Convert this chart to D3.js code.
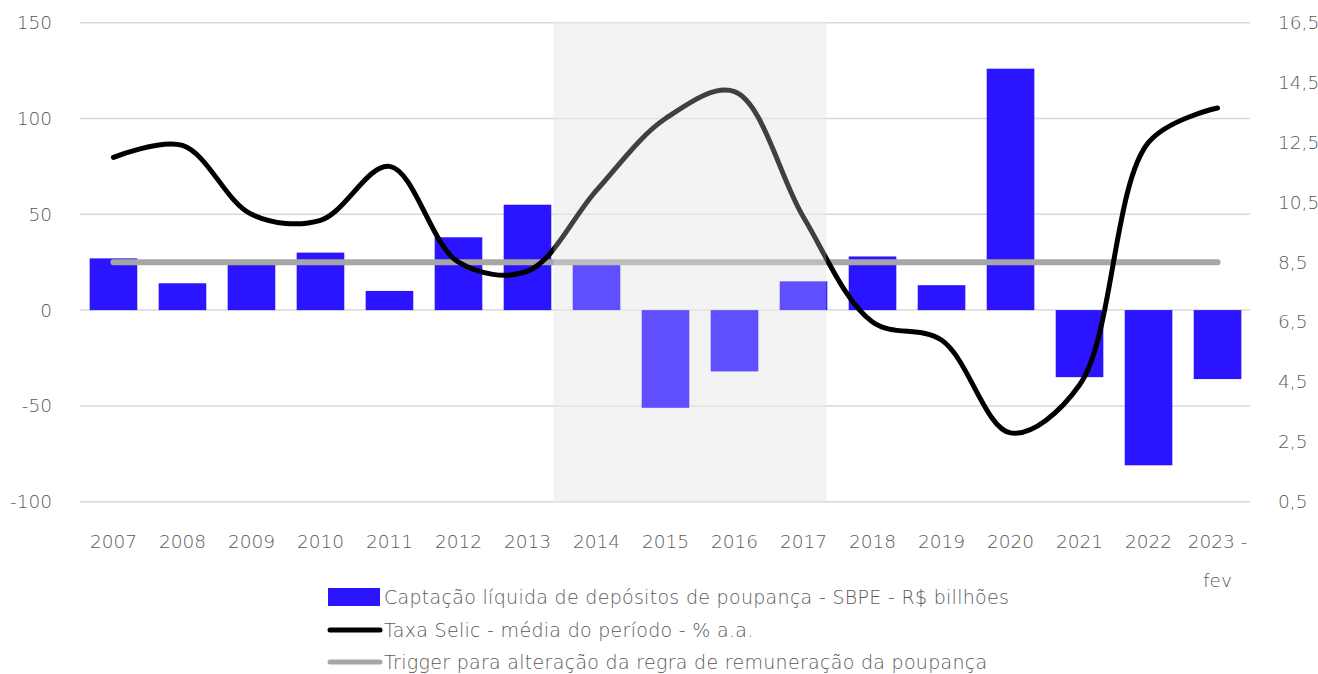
<!DOCTYPE html>
<html>
<head>
<meta charset="utf-8">
<script src="https://cdn.jsdelivr.net/npm/d3@7"></script>
<style>
    body { margin: 0; background: #fff; }
    svg text { font-family: 'DejaVu Sans', sans-serif; font-weight: 200; fill: #595959; }
</style>
</head>
<body>
<main></main>
<script>
const years = ['2007', '2008', '2009', '2010', '2011', '2012', '2013', '2014', '2015', '2016', '2017', '2018', '2019', '2020', '2021', '2022', '2023 - fev'];
const captacao = [27, 14, 25, 30, 10, 38, 55, 24, -51, -32, 15, 28, 13, 126, -35, -81, -36];
const selic = [12.0, 12.4, 10.1, 9.9, 11.7, 8.5, 8.2, 10.9, 13.3, 14.2, 10.0, 6.5, 5.9, 2.8, 4.4, 12.5, 13.65];
const trigger = 8.5;
const leftTicks = [-100, -50, 0, 50, 100, 150];
const rightTicks = [0.5, 2.5, 4.5, 6.5, 8.5, 10.5, 12.5, 14.5, 16.5];
const shadedYears = ['2014', '2017'];
const legendLabels = [
    'Captação líquida de depósitos de poupança - SBPE - R$ billhões',
    'Taxa Selic - média do período - % a.a.',
    'Trigger para alteração da regra de remuneração da poupança'
];

const w = 1318;
const h = 674;
const pLeft = 80, pRight = 1251, pTop = 22.7, pBottom = 501.7;
const blue = '#2b14ff';
const fs = '18.5px';

const svg = d3.select('main').append('svg').attr('width', w).attr('height', h);

const xScale = d3.scaleBand().domain(years).range([pLeft, pRight])
    .paddingInner(0.31).paddingOuter(0.14);
const cx = d => xScale(d) + xScale.bandwidth() / 2;
const yLeft = d3.scaleLinear().domain([-100, 150]).range([pBottom, pTop]);
const yRight = d3.scaleLinear().domain([0.5, 16.5]).range([pBottom, pTop]);

// shaded period
const shadeX0 = xScale(shadedYears[0]) - 19;
const shadeX1 = xScale(shadedYears[1]) + xScale.bandwidth() - 1;
svg.append('rect')
    .attr('x', shadeX0).attr('y', pTop - 1)
    .attr('width', shadeX1 - shadeX0).attr('height', pBottom - pTop + 1)
    .attr('fill', '#efefef');

// gridlines
svg.append('g').selectAll('line').data(leftTicks).enter().append('line')
    .attr('x1', pLeft).attr('x2', pRight - 1)
    .attr('y1', d => yLeft(d)).attr('y2', d => yLeft(d))
    .attr('stroke', '#d9d9d9').attr('stroke-width', 1.5);

// left axis labels
const yAxisL = d3.axisLeft(yLeft).tickValues(leftTicks).tickSize(0).tickPadding(0)
    .tickFormat(d => String(d));
svg.append('g')
    .attr('transform', `translate(52, 0)`)
    .call(yAxisL)
    .call(g => g.select('.domain').remove())
    .call(g => g.attr('font-family', null).attr('font-size', null))
    .selectAll('text').style('font-size', fs);

// right axis labels
const yAxisR = d3.axisRight(yRight).tickValues(rightTicks).tickSize(0).tickPadding(0)
    .tickFormat(d => d3.format('.1f')(d).replace('.', ','));
svg.append('g')
    .attr('transform', `translate(1278, 0)`)
    .call(yAxisR)
    .call(g => g.select('.domain').remove())
    .call(g => g.attr('font-family', null).attr('font-size', null))
    .selectAll('text').style('font-size', fs);

// bars
svg.append('g').selectAll('rect').data(captacao).enter().append('rect')
    .attr('x', (d, i) => xScale(years[i]))
    .attr('width', xScale.bandwidth())
    .attr('y', d => yLeft(Math.max(0, d)))
    .attr('height', d => Math.abs(yLeft(d) - yLeft(0)))
    .attr('fill', blue);

// trigger line
svg.append('line')
    .attr('x1', cx(years[0])).attr('x2', cx(years[years.length - 1]))
    .attr('y1', yRight(trigger)).attr('y2', yRight(trigger))
    .attr('stroke', '#a6a6a6').attr('stroke-width', 6).attr('stroke-linecap', 'round');

// selic line
const line = d3.line()
    .x((d, i) => cx(years[i]))
    .y(d => yRight(d))
    .curve(d3.curveCatmullRom.alpha(0.5));
svg.append('path')
    .datum(selic)
    .attr('d', line)
    .attr('fill', 'none')
    .attr('stroke', '#000')
    .attr('stroke-width', 5)
    .attr('stroke-linecap', 'round');

// light veil over the shaded period
svg.append('rect')
    .attr('x', shadeX0).attr('y', pTop - 1)
    .attr('width', shadeX1 - shadeX0).attr('height', pBottom - pTop + 1)
    .attr('fill', '#fff').attr('opacity', 0.25);

// x labels
const xl = svg.append('g').selectAll('text').data(years).enter().append('text')
    .attr('x', d => cx(d))
    .attr('y', 548)
    .attr('text-anchor', 'middle')
    .style('font-size', fs);
xl.each(function (d) {
    const parts = d.split(' - ');
    const t = d3.select(this);
    if (parts.length === 1) {
        t.text(d);
    } else {
        t.append('tspan').attr('x', cx(d)).text(parts[0] + ' -');
        t.append('tspan').attr('x', cx(d)).attr('dy', 39).text(parts[1]);
    }
});

// legend
const lg = svg.append('g');
const ly = [597, 630, 662];
lg.append('rect').attr('x', 328).attr('y', ly[0] - 9).attr('width', 52).attr('height', 18).attr('fill', blue);
lg.append('line').attr('x1', 330).attr('x2', 380).attr('y1', ly[1]).attr('y2', ly[1])
    .attr('stroke', '#000').attr('stroke-width', 5).attr('stroke-linecap', 'round');
lg.append('line').attr('x1', 330).attr('x2', 380).attr('y1', ly[2]).attr('y2', ly[2])
    .attr('stroke', '#a6a6a6').attr('stroke-width', 5).attr('stroke-linecap', 'round');
lg.selectAll('text').data(legendLabels).enter().append('text')
    .attr('x', 384)
    .attr('y', (d, i) => ly[i] + 7)
    .style('font-size', '19px')
    .style('letter-spacing', '0.3px')
    .text(d => d);
</script>
</body>
</html>
